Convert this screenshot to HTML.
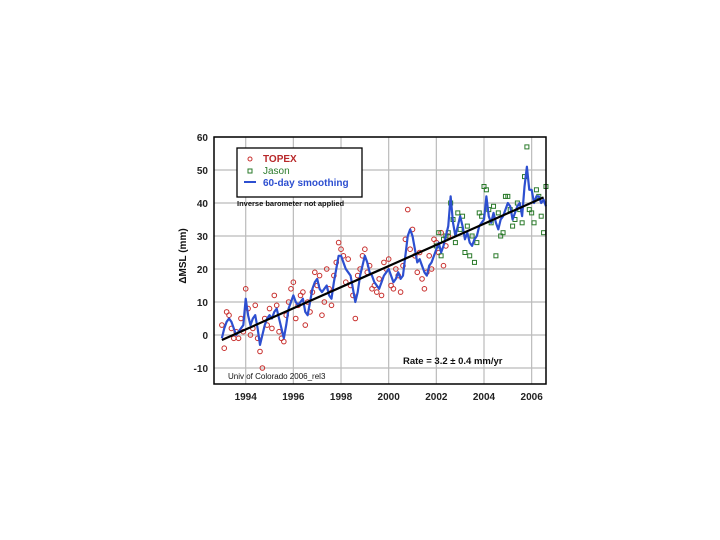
<!DOCTYPE html>
<html><head><meta charset="utf-8"><style>
body{margin:0;background:#fff;}
svg{display:block;font-family:"Liberation Sans",sans-serif;}
</style></head><body>
<svg id="c" width="720" height="540"></svg>
<script>
const years=[1994,1996,1998,2000,2002,2004,2006];
const yTicks=[-10,0,10,20,30,40,50,60];
const smoothStart=1993.0;
const smooth=[-1,2,4,5,4,2,0,1,2,3, 11,6,3,5,6,2,-3,0,3,5, 6,5,7,8,5,2,-1,3,8,10, 12,10,9,10,11,7,6,10,14,16, 17,14,13,14,15,12,11,16,20,24, 24,22,20,19,18,14,10,13,18,21, 24,22,19,18,16,15,14,16,18,19, 20,18,16,17,19,17,18,24,30,32, 30,26,22,23,21,19,18,21,22,24, 26,28,25,27,30,33,42,34,30,33, 36,33,29,31,28,27,29,30,33,34, 35,42,36,34,37,34,32,35,36,38, 40,39,35,37,39,40,36,45,51,44, 44,40,42,42,40,41,39];
const topexStart=1993.0;
const topex=[3,-4,7,6,2,-1,1,-1,5,1, 14,8,0,2,9,-1,-5,-10,5,3, 8,2,12,9,1,-1,-2,6,10,14, 16,5,9,12,13,3,10,7,13,19, 15,18,6,10,20,14,9,18,22,28, 26,24,16,23,15,12,5,18,20,24, 26,19,21,14,15,13,17,12,22,20, 23,15,14,20,18,13,21,29,38,26, 32,24,19,25,17,14,19,24,20,29, 28,25,31,21,27,30];
const jasonStart=2002.0;
const jason=[27,31,24,29,30,31,40,35,28,37, 32,36,25,33,24,30,22,28,37,36, 45,44,38,34,39,24,37,30,31,42, 42,38,33,35,40,38,34,48,57,38, 37,34,44,42,36,31,45];
const trendStart=1993.0, trendEnd=2006.5, trendV0=-1.5, rate=3.2;

const L=214,R=546,T=137,B=384;
const X=y=>245.7+(y-1994)*23.83;
const Y=v=>335-v*3.3;
const NS='http://www.w3.org/2000/svg';
const svg=document.getElementById('c');
function mk(t,a,p){const e=document.createElementNS(NS,t);for(const k in a)e.setAttribute(k,a[k]);(p||svg).appendChild(e);return e;}

const grid=mk('g',{});


years.forEach(y=>{mk('line',{x1:X(y),x2:X(y),y1:T,y2:B,stroke:'#bbb','stroke-width':1.2},grid);
 const t=mk('text',{x:X(y),y:400,'text-anchor':'middle','font-size':10,'font-weight':'bold',fill:'#222'});t.textContent=y;
 
 });
yTicks.forEach(v=>{mk('line',{x1:L,x2:R,y1:Y(v),y2:Y(v),stroke:'#bbb','stroke-width':1.2},grid);
 const t=mk('text',{x:208,y:Y(v)+4,'text-anchor':'end','font-size':10,'font-weight':'bold',fill:'#222'});t.textContent=v;
 
 });

const tg=mk('g',{fill:'none',stroke:'#c8302e','stroke-width':1});


topex.forEach((v,i)=>{const c=mk('circle',{cx:X(topexStart+i*0.1),cy:Y(v),r:2.3},tg);
 
 });
const jg=mk('g',{fill:'none',stroke:'#2a7a2a','stroke-width':1});


jason.forEach((v,i)=>{const r=mk('rect',{x:X(jasonStart+i*0.1)-2,y:Y(v)-2,width:4,height:4},jg);
 
 });

const sl=mk('polyline',{points:smooth.map((v,i)=>X(smoothStart+i*0.1)+','+Y(v)).join(' '),fill:'none',stroke:'#2d4fd0','stroke-width':2.2,'stroke-linejoin':'round'});


const tl=mk('line',{x1:X(trendStart),y1:Y(trendV0),x2:X(trendEnd),y2:Y(trendV0+rate*(trendEnd-trendStart)),stroke:'#000','stroke-width':2.2});



const fr=mk('rect',{x:L,y:T,width:R-L,height:B-T,fill:'none',stroke:'#000','stroke-width':1.5});



const lg=mk('g',{});


mk('rect',{x:237,y:148,width:125,height:49,fill:'#fff',stroke:'#000','stroke-width':1.3},lg);
mk('circle',{cx:250,cy:159,r:2,fill:'none',stroke:'#c8302e'},lg);
mk('rect',{x:248,y:169,width:4,height:4,fill:'none',stroke:'#2a7a2a'},lg);
mk('line',{x1:244,x2:256,y1:182,y2:182,stroke:'#2d4fd0','stroke-width':2},lg);
[['TOPEX','#b8282a',162,'bold'],['Jason','#2a7a2a',174,'normal'],['60-day smoothing','#2d4fd0',186,'bold']].forEach(d=>{
 const t=mk('text',{x:263,y:d[2],'font-size':10,fill:d[1],'font-weight':d[3]},lg);t.textContent=d[0];});
function txt(s,x,y,sz,w,name,anchor){const t=mk('text',{x:x,y:y,'font-size':sz,'font-weight':w,fill:'#111','text-anchor':anchor||'start'});t.textContent=s;
 
 return t;}
txt('Inverse barometer not applied',237,206,7.5,'bold','ib-note');
txt('Rate = 3.2 ± 0.4 mm/yr',403,364,9.5,'bold','rate-label');
txt('Univ of Colorado 2006_rel3',228,379,8,'normal','credit-label');
const yl=txt('ΔMSL  (mm)',0,0,10,'bold','y-axis-title','middle');
yl.setAttribute('transform','translate(186,256) rotate(-90)');
</script>
</body></html>
